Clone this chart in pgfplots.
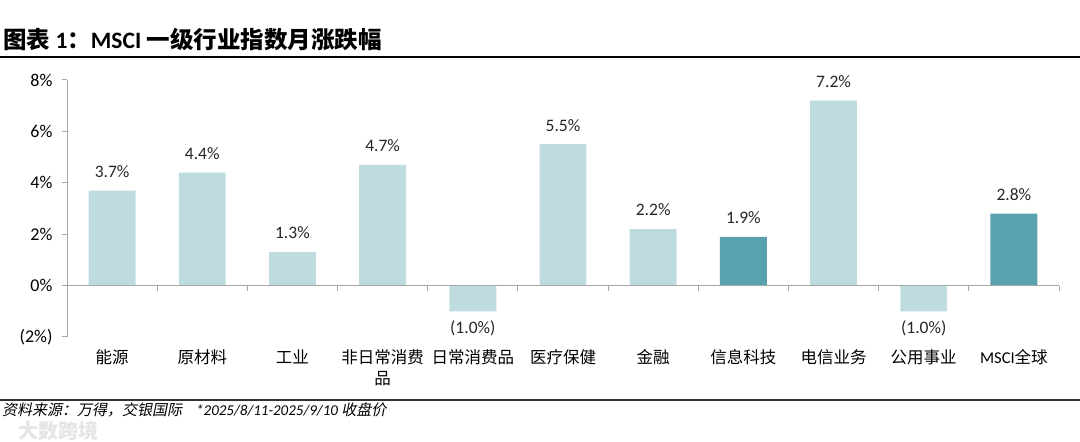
\documentclass[border=0pt]{standalone}
\usepackage{pgfplots}
\pgfplotsset{compat=1.18}
\usepackage{fontspec}
\setmainfont{Carlito}
\newfontfamily\cjk{Noto Sans CJK SC}
\newfontfamily\cjkit{Noto Sans CJK SC}[FakeSlant=0.2]
\definecolor{lightbar}{HTML}{BEDCE0}
\definecolor{darkbar}{HTML}{5AA1AE}
\definecolor{axisgray}{HTML}{A6A6A6}
\begin{document}
\begin{tikzpicture}[x=1pt,y=1pt]
\path[use as bounding box] (0,0) rectangle (1080,442);
% title
\node[anchor=west,inner sep=0] at (3,402) {\fontsize{23.5}{26}\selectfont\bfseries{\cjk 图表} 1{\cjk ：}MSCI {\cjk 一级行业指数月涨跌幅}};
\draw[line width=2pt,black] (0,385) -- (1080,385);
% bottom line and source
\draw[line width=1.5pt,black!80] (0,42) -- (1080,42);
\node[anchor=west,inner sep=0] at (2,32) {\fontsize{15}{17}\selectfont{\cjkit 资料来源：万得，交银国际}\hspace{14pt}\textit{*2025/8/11-2025/9/10} {\cjkit 收盘价}};
\node[anchor=west,inner sep=0,text=black!10] at (18,11) {\fontsize{20}{22}\selectfont\cjk\bfseries 大数跨境};
\begin{axis}[
  at={(67pt,105pt)}, anchor=south west,
  scale only axis, width=992pt, height=257pt,
  xmin=-0.5, xmax=10.5, ymin=-2, ymax=8,
  axis x line=bottom, axis y line=left,
  x axis line style={draw=none},
  y axis line style={-, draw=axisgray, line width=1pt},
  xtick={0,...,10},
  xticklabels={{\cjk 能源},{\cjk 原材料},{\cjk 工业},{{\cjk 非日常消费}\\{\cjk 品}},{\cjk 日常消费品},{\cjk 医疗保健},{\cjk 金融},{\cjk 信息科技},{\cjk 电信业务},{\cjk 公用事业},{MSCI{\cjk 全球}}},
  xticklabel style={font=\fontsize{16.5}{21}\selectfont, align=center, anchor=north, yshift=-4pt},
  xtick style={draw=none},
  ytick={-2,0,2,4,6,8},
  yticklabels={(2\%),0\%,2\%,4\%,6\%,8\%},
  yticklabel style={font=\fontsize{18}{20}\selectfont, anchor=east, xshift=-6pt},
  ytick style={draw=axisgray, line width=1pt},
  tick align=outside, major tick length=5pt,
  ybar, bar width=0.52,
  nodes near coords,
  point meta=explicit symbolic,
  every node near coord/.append style={font=\fontsize{17.5}{19}\selectfont, text=black!85, inner ysep=10pt, text height=12pt, text depth=3pt},
  clip=false,
]
\addplot[fill=lightbar, draw=none, bar shift=0pt] table[meta=label] {
x y label
0 3.7 3.7\%
1 4.4 4.4\%
2 1.3 1.3\%
3 4.7 4.7\%
5 5.5 5.5\%
6 2.2 2.2\%
8 7.2 7.2\%
};
\addplot[fill=lightbar, draw=none, bar shift=0pt,
  nodes near coords style={anchor=north}] table[meta=label] {
x y label
4 -1.0 (1.0\%)
9 -1.0 (1.0\%)
};
\addplot[fill=darkbar, draw=none, bar shift=0pt] table[meta=label] {
x y label
7 1.9 1.9\%
10 2.8 2.8\%
};
\draw[axisgray, line width=1pt] (axis cs:-0.5,0) -- (axis cs:10.5,0);
\pgfplotsinvokeforeach{0.5,1.5,...,10.5}{
  \draw[axisgray, line width=1pt] (axis cs:#1,0) -- ([yshift=-5pt]axis cs:#1,0);
}
\end{axis}
\end{tikzpicture}
\end{document}
